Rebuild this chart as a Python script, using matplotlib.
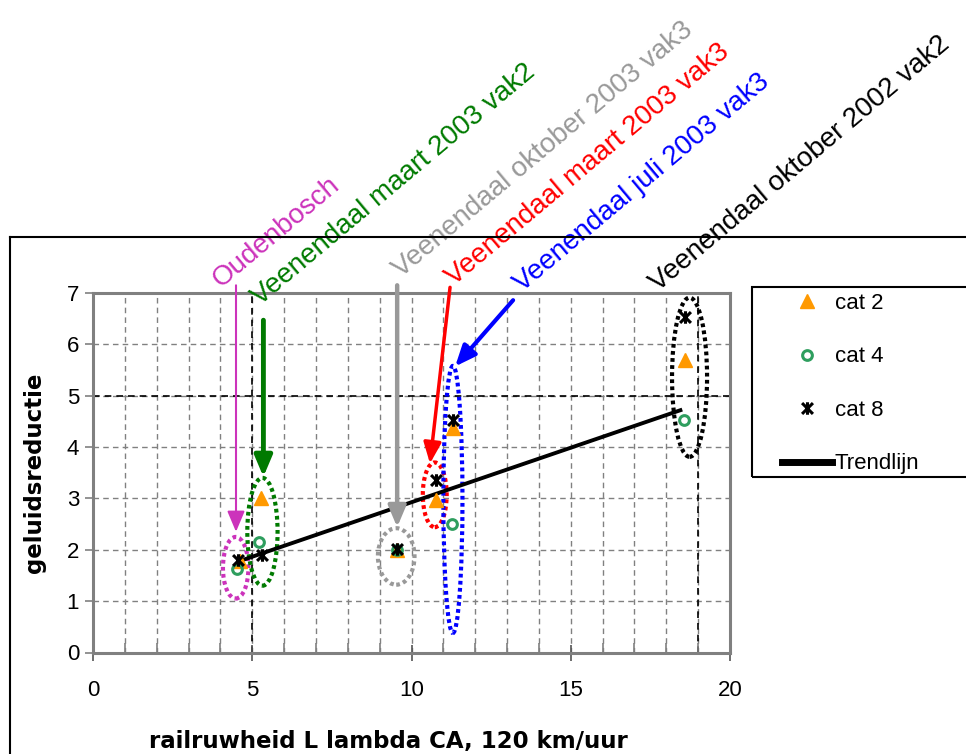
import numpy as np
import matplotlib
matplotlib.use("Agg")
import matplotlib.pyplot as plt
from matplotlib.patches import Ellipse, Rectangle
from matplotlib.lines import Line2D
from matplotlib.path import Path

plt.rcParams['font.family'] = ['Liberation Sans', 'DejaVu Sans']

# Measured noise reduction per vehicle category
cat2_x = [4.6, 5.27, 9.55, 10.77, 11.3, 18.6]
cat2_y = [1.78, 3.0, 2.0, 2.97, 4.37, 5.69]
cat4_x = [4.52, 5.2, 9.55, 11.27, 18.56]
cat4_y = [1.62, 2.15, 2.0, 2.5, 4.52]
cat8_x = [4.56, 5.3, 9.55, 10.77, 11.3, 18.6]
cat8_y = [1.8, 1.9, 2.01, 3.35, 4.52, 6.53]

# Trend line end points
trend_x = [4.6, 18.5]
trend_y = [1.78, 4.73]

# Measurement sites, grouped with dotted ellipses
sites = ["Oudenbosch",
         "Veenendaal maart 2003 vak2",
         "Veenendaal oktober 2003 vak3",
         "Veenendaal maart 2003 vak3",
         "Veenendaal juli 2003 vak3",
         "Veenendaal oktober 2002 vak2"]
site_colors = ["#CC33BB", "#007A00", "#999999", "#FF0000", "#0000FF", "#000000"]
group_cx = [4.48, 5.32, 9.52, 10.73, 11.3, 18.73]
group_cy = [1.65, 2.35, 1.87, 3.07, 2.98, 5.36]
group_w = [0.8, 0.95, 1.15, 0.75, 0.6, 1.1]
group_h = [1.2, 2.1, 1.1, 1.26, 5.2, 3.1]

# label anchors (baseline start) and pointer arrows
label_x = [4.0, 5.25, 9.68, 11.32, 13.48, 17.73]
label_y = [7.09, 6.75, 7.29, 7.13, 7.01, 7.01]
arrow_tail = [(4.49, 7.15), (5.35, 6.47), (9.55, 7.15), (11.21, 7.11), (13.19, 6.86)]
arrow_tip = [(4.49, 2.35), (5.35, 3.42), (9.55, 2.44), (10.58, 3.68), (11.37, 5.57)]
arrow_lw = [1.5, 3.5, 3.2, 2.5, 3.0]

fig = plt.figure(figsize=(9.66, 7.54), dpi=100)
ax = fig.add_axes([93 / 966, 1 - 652.5 / 754, 637 / 966, 359.5 / 754])

ax.set_xlim(0, 20)
ax.set_ylim(0, 7)
ax.set_xticks(np.arange(0, 21, 5))
ax.set_xticks(np.arange(0, 21, 1), minor=True)
ax.set_yticks(np.arange(0, 8, 1))

grid_kw = dict(color='#808080', lw=1.0, ls=(0, (4, 3)), zorder=0)
for gx in range(1, 20):
    ax.axvline(gx, **grid_kw)
for gy in range(1, 7):
    ax.axhline(gy, **grid_kw)
black_kw = dict(color='black', lw=1.2, ls=(0, (4, 3)), zorder=0.5)
ax.axvline(5, **black_kw)
ax.axvline(19, **black_kw)
ax.axhline(5, **black_kw)

for sp in ax.spines.values():
    sp.set_color('#808080')
    sp.set_linewidth(2.2)

ax.tick_params(axis='x', which='major', direction='inout', length=12, width=1.2,
               color='#555555', labelsize=16, pad=14)
ax.tick_params(axis='x', which='minor', direction='in', length=7, width=1.2,
               color='#808080')
ax.tick_params(axis='y', which='major', direction='out', length=6, width=1.2,
               color='#808080', labelsize=16, pad=4)

label_font = dict(family='DejaVu Sans', fontsize=16.5, fontweight='bold')
ax.set_xlabel("railruwheid L lambda CA, 120 km/uur", labelpad=18, **label_font)
ax.set_ylabel("geluidsreductie", labelpad=15, **label_font)
ax.xaxis.set_label_coords((388 - 93) / 637, -0.215)

# Star-shaped marker: an X with a vertical bar
star = Path([(-1, -1), (1, 1), (-1, 1), (1, -1), (0, -1.15), (0, 1.15)],
            [Path.MOVETO, Path.LINETO, Path.MOVETO, Path.LINETO,
             Path.MOVETO, Path.LINETO])

for cx, cy, w, h, c in zip(group_cx, group_cy, group_w, group_h, site_colors):
    ax.add_patch(Ellipse((cx, cy), w, h, fill=False, ec=c, lw=3,
                         ls=(0, (0.9, 0.8)), zorder=2))

ax.plot(trend_x, trend_y, color='black', lw=2.8, zorder=3, solid_capstyle='butt')
ax.plot(cat2_x, cat2_y, ls='none', marker='^', ms=10, color='#FF9900', mec='#FF9900', zorder=4)
ax.plot(cat4_x, cat4_y, ls='none', marker='o', ms=7, mfc='none', mec='#2E9E5E', mew=2.2, zorder=5)
ax.plot(cat8_x, cat8_y, ls='none', marker=star, ms=9, color='black', mew=2.2, zorder=6)

for (tx, ty), (hx, hy), lw, c in zip(arrow_tail, arrow_tip, arrow_lw, site_colors[:5]):
    ax.annotate('', xy=(hx, hy), xytext=(tx, ty),
                arrowprops=dict(arrowstyle='-|>,head_length=0.9,head_width=0.38',
                                lw=lw, color=c, shrinkA=0, shrinkB=0,
                                mutation_scale=14),
                annotation_clip=False, zorder=7)

for name, lx, ly, c in zip(sites, label_x, label_y, site_colors):
    ax.text(lx, ly, name, color=c, fontsize=20, rotation=40,
            rotation_mode='anchor', ha='left', va='baseline', clip_on=False,
            zorder=8)

handles = [
    Line2D([], [], ls='none', marker='^', ms=10, color='#FF9900'),
    Line2D([], [], ls='none', marker='o', ms=7, mfc='none', mec='#2E9E5E', mew=2.2),
    Line2D([], [], ls='none', marker=star, ms=9, color='black', mew=2.2),
    Line2D([], [], color='black', lw=5),
]
labels = ["cat 2", "cat 4", "cat 8", "Trendlijn"]
fig.legend(handles, labels, loc='upper left',
           bbox_to_anchor=(782 / 966, 1 - 293 / 754), frameon=False,
           fontsize=16, handlelength=2.25, handletextpad=0.12,
           labelspacing=1.46, borderpad=0, borderaxespad=0)
fig.add_artist(Rectangle((752 / 966, 1 - 477 / 754), 0.3, 190 / 754,
                         transform=fig.transFigure, fill=False,
                         ec='black', lw=1.5))

# Outer chart frame
fig.add_artist(Line2D([10 / 966, 10 / 966], [0, 1 - 237 / 754],
                      transform=fig.transFigure, color='black', lw=1.5))
fig.add_artist(Line2D([10 / 966, 1], [1 - 237 / 754, 1 - 237 / 754],
                      transform=fig.transFigure, color='black', lw=1.5))

fig.savefig("out.png", dpi=100)
